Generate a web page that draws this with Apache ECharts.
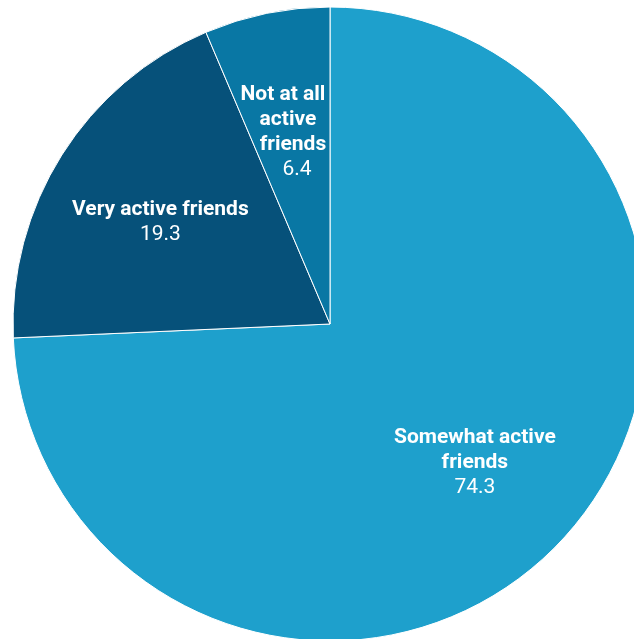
<!DOCTYPE html>
<html>
<head>
<meta charset="utf-8">
<script src="https://cdn.jsdelivr.net/npm/echarts@6/dist/echarts.min.js"></script>
<style>
html,body{margin:0;padding:0;background:#fff;}
#chart{width:634px;height:639px;}
</style>
</head>
<body>
<div id="chart"></div>
<script>
// Share of respondents by how active their friends are
const categories = ['Somewhat active friends', 'Very active friends', 'Not at all active friends'];
const values = [74.3, 19.3, 6.4];
const labelNames = ['Somewhat active\nfriends', 'Very active friends', 'Not at all\nactive\nfriends'];
const colors = ['#1ea0cc', '#06517a', '#0977a4'];

const chart = echarts.init(document.getElementById('chart'));

const sliceData = categories.map((name, i) => ({
  name: name,
  value: values[i],
  itemStyle: { color: colors[i] }
}));

const txt = { fontFamily: 'Roboto', fontSize: 21, color: '#fff', lineHeight: 25, align: 'center' };
const bold = Object.assign({}, txt, { fontWeight: 'bold' });

// Small per-slice nudges for the label blocks
const labelOffsets = [[0, 0], [0, 5], [0, 5]];

// The narrow slice's label steps slightly to the right line by line
const narrowRich = {
  a: Object.assign({}, bold, { padding: [0, 14, 0, 0] }),
  b: Object.assign({}, bold, { padding: [0, 4, 0, 0] }),
  c: Object.assign({}, bold, { padding: [0, 0, 0, 6] }),
  v: Object.assign({}, txt, { padding: [0, 0, 0, 14] })
};

function labelText(i) {
  const lines = labelNames[i].split('\n');
  if (i === 2) {
    return lines.map((s, k) => '{' + 'abc'[k] + '|' + s + '}').join('\n') + '\n{v|' + values[i].toFixed(1) + '}';
  }
  return lines.map(s => '{n|' + s + '}').join('\n') + '\n{v|' + values[i].toFixed(1) + '}';
}

// Label-only ring so the text sits at about 62% of the radius
const labelData = categories.map((name, i) => ({
  name: name,
  value: values[i],
  label: Object.assign(
    { formatter: () => labelText(i), offset: labelOffsets[i] },
    i === 2 ? { rich: narrowRich } : {}
  )
}));

chart.setOption({
  animation: false,
  series: [
    {
      type: 'pie',
      center: [330, 324],
      radius: [0, 317],
      startAngle: 90,
      clockwise: true,
      silent: true,
      label: { show: false },
      labelLine: { show: false },
      itemStyle: { borderColor: '#ffffff', borderWidth: 1 },
      data: sliceData
    },
    {
      type: 'pie',
      center: [330, 324],
      radius: [78, 317],
      startAngle: 90,
      clockwise: true,
      silent: true,
      itemStyle: { color: 'rgba(0,0,0,0)' },
      labelLine: { show: false },
      label: {
        show: true,
        position: 'inside',
        align: 'center',
        rich: { n: bold, v: txt }
      },
      data: labelData
    }
  ]
});
</script>
</body>
</html>
